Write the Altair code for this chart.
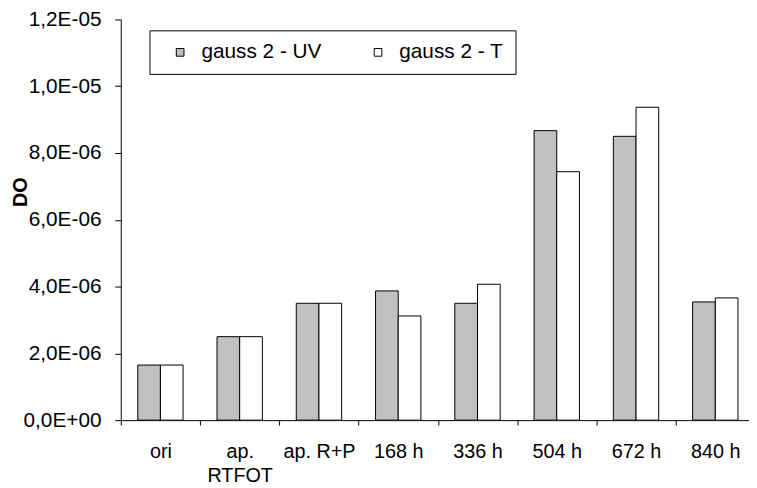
import altair as alt
import pandas as pd

categories = ["ori", "ap. RTFOT", "ap. R+P", "168 h", "336 h", "504 h", "672 h", "840 h"]
series_names = ["gauss 2 - UV", "gauss 2 - T"]
uv_values = [1.65e-6, 2.50e-6, 3.50e-6, 3.87e-6, 3.50e-6, 8.67e-6, 8.50e-6, 3.54e-6]
t_values = [1.65e-6, 2.50e-6, 3.50e-6, 3.12e-6, 4.07e-6, 7.44e-6, 9.37e-6, 3.66e-6]
series_colors = ["#C0C0C0", "#FFFFFF"]
tick_values = [0, 2e-6, 4e-6, 6e-6, 8e-6, 1e-5, 1.2e-5]
tick_labels = ["0,0E+00", "2,0E-06", "4,0E-06", "6,0E-06", "8,0E-06", "1,0E-05", "1,2E-05"]

rows = []
for c, u, t in zip(categories, uv_values, t_values):
    rows.append({"cat": c, "series": series_names[0], "value": u})
    rows.append({"cat": c, "series": series_names[1], "value": t})
df = pd.DataFrame(rows)

FONT = "Liberation Sans"
label_lookup = "[" + ",".join("'%s'" % s for s in tick_labels) + "][round(datum.value / 2e-6)]"

chart = alt.Chart(df).mark_bar(stroke="black", strokeWidth=1).encode(
    x=alt.X("cat:N", sort=categories,
            scale=alt.Scale(paddingInner=0, paddingOuter=0),
            axis=alt.Axis(title=None, labelAngle=0, tickBand="extent", tickSize=5,
                          labelPadding=17, labelFontSize=20, labelLineHeight=24,
                          labelExpr="datum.label == 'ap. RTFOT' ? ['ap.', 'RTFOT'] : datum.label")),
    xOffset=alt.XOffset("series:N", sort=series_names,
                        scale=alt.Scale(paddingInner=0, paddingOuter=0.748)),
    y=alt.Y("value:Q",
            scale=alt.Scale(domain=[0, 1.2e-5], nice=False),
            axis=alt.Axis(title="DO", values=tick_values, labelExpr=label_lookup,
                          tickSize=6, labelPadding=14, labelFontSize=21,
                          titleFontSize=20, titleFontWeight="bold", titleAngle=270,
                          titleX=-101, titleY=174, titleAlign="center", titleBaseline="middle")),
    color=alt.Color("series:N", sort=series_names,
                    scale=alt.Scale(domain=series_names, range=series_colors),
                    legend=alt.Legend(title=" ", titleOrient="left", titleFontSize=1, titlePadding=9,
                                      orient="none", legendX=29, legendY=11,
                                      direction="horizontal", strokeColor="black",
                                      fillColor="white", padding=11.5, cornerRadius=0,
                                      columnPadding=46, labelOffset=11,
                                      symbolType="square", symbolSize=60,
                                      symbolStrokeColor="black", symbolStrokeWidth=1,
                                      symbolOpacity=1, labelFontSize=21)),
).properties(
    width=641, height=405,
    autosize=alt.AutoSizeParams(type="none"),
    padding={"left": 114, "top": 9, "right": -6, "bottom": 65},
).configure_view(stroke=None).configure_axis(
    grid=False, domainColor="black", tickColor="black", labelColor="black",
    titleColor="black", labelFont=FONT, titleFont=FONT, domainWidth=1, tickWidth=1,
).configure_legend(labelFont=FONT, labelColor="black", titleFont=FONT)

chart.save("out.html", embed_options={"renderer": "svg", "actions": False})
